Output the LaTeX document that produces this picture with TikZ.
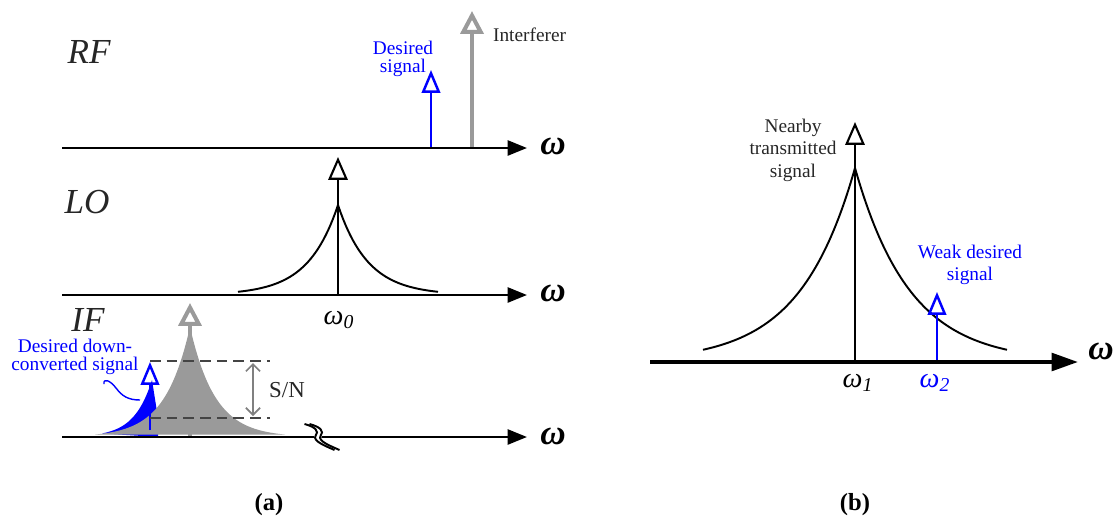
\documentclass[tikz,border=0pt]{standalone}
\usepackage{fontspec}
\setmainfont{Liberation Serif}
\usetikzlibrary{arrows.meta}
\definecolor{sigBlue}{HTML}{0000FF}
\definecolor{sigGray}{HTML}{9A9A9A}
\definecolor{textDark}{HTML}{262626}
\definecolor{dashGray}{HTML}{444444}

\tikzset{
  axisline/.style={line width=1.5pt, -{Triangle[length=11pt,width=8.5pt]}},
  spikeblue/.style={draw=sigBlue, line width=1.4pt, -{Triangle[open,length=13pt,width=10.5pt]}},
  spikegray/.style={draw=sigGray, line width=2.3pt, -{Triangle[open,length=13pt,width=13pt]}},
  spikeblack/.style={draw=black, line width=1.2pt, -{Triangle[open,length=13pt,width=11pt]}},
  bandlabel/.style={font=\fontsize{20}{24}\selectfont\itshape, text=textDark},
  omegalabel/.style={font=\fontsize{20}{24}\selectfont\bfseries\itshape},
  freqlabel/.style={font=\fontsize{16}{18}\selectfont\itshape},
  note/.style={font=\fontsize{11}{10.5}\selectfont, align=center, inner sep=1pt},
  caption/.style={font=\fontsize{14}{16}\selectfont\bfseries}
}

\begin{document}
\begin{tikzpicture}[x=0.02cm, y=-0.02cm]
  \useasboundingbox (0,0) rectangle (1120,518);

  % ---- (a) RF ----
  \coordinate (rfStart) at (62,148);
  \coordinate (rfEnd) at (527,148);
  \node[bandlabel] (rfLbl) at (89,52) {RF};
  \coordinate (wantBase) at (431,148);
  \coordinate (wantTop) at (431,70);
  \coordinate (intBase) at (472,148);
  \coordinate (intTop) at (472,11);
  \draw[spikeblue] (wantBase) -- (wantTop);
  \draw[spikegray] (intBase) -- (intTop);
  \draw[axisline] (rfStart) -- (rfEnd);
  \node[omegalabel] (rfOmega) at (553,146) {ω};
  \node[note, text=sigBlue] (wantLbl) at (403,59) {Desired\\signal};
  \node[note, text=textDark, anchor=west] (intLbl) at (491,35) {Interferer};

  % ---- (a) LO ----
  \coordinate (loStart) at (62,295);
  \coordinate (loEnd) at (527,295);
  \node[bandlabel] (loLbl) at (87,202) {LO};
  \coordinate (loBase) at (338,295);
  \coordinate (loTop) at (338,157);
  \draw[line width=1.1pt] plot[domain=-100:100, samples=81] ({338+\x},{295-90*exp(-abs(\x)/30)});
  \draw[spikeblack] (loBase) -- (loTop);
  \draw[axisline] (loStart) -- (loEnd);
  \node[omegalabel] (loOmega) at (553,293) {ω};
  \node[freqlabel] (wZero) at (339,320) {ω\textsubscript{0}};

  % ---- (a) IF ----
  \coordinate (ifStart) at (62,437);
  \coordinate (ifEnd) at (527,437);
  \node[bandlabel] (ifLbl) at (88,320) {IF};
  \fill[sigBlue] plot[domain=-50:0, samples=26] ({152+\x},{437-57*exp(-abs(\x)/18)})
    -- (158,418) -- (158,437) -- cycle;
  \fill[sigGray] plot[domain=-95:95, samples=96] ({190+\x},{437-110*exp(-abs(\x)/25)}) -- cycle;
  \coordinate (dwnBase) at (150,430);
  \coordinate (dwnTop) at (150,362);
  \coordinate (blkBase) at (190,437);
  \coordinate (blkTop) at (190,303);
  \draw[spikeblue] (dwnBase) -- (dwnTop);
  \draw[spikegray] (blkBase) -- (blkTop);
  \coordinate (snHiL) at (150,361);
  \coordinate (snHiR) at (270,361);
  \coordinate (snLoL) at (150,418);
  \coordinate (snLoR) at (270,418);
  \draw[dashGray, dashed, dash pattern=on 6pt off 3.5pt, line width=0.9pt] (snHiL) -- (snHiR);
  \draw[dashGray, dashed, dash pattern=on 6pt off 3.5pt, line width=0.9pt] (snLoL) -- (snLoR);
  \coordinate (snTop) at (253,363);
  \coordinate (snBot) at (253,416);
  \draw[draw=gray, line width=1pt, {Straight Barb[length=4pt]}-{Straight Barb[length=4pt]}] (snTop) -- (snBot);
  \node[text=textDark, font=\fontsize{13}{15}\selectfont, anchor=west] (snLbl) at (263,390) {S/N};
  \draw[axisline] (ifStart) -- (ifEnd);
  % break in the axis
  \draw[white, line width=4pt] (307,424) .. controls (318,427) and (322,431) .. (318,436)
    .. controls (315,441) and (328,446) .. (337,450);
  \foreach \dx in {-2.5,2.5}
    \draw[line width=1.1pt, xshift=\dx*0.02cm] (307,424) .. controls (318,427) and (322,431) .. (318,436)
      .. controls (315,441) and (328,446) .. (337,450);
  \node[omegalabel] (ifOmega) at (553,436) {ω};
  \node[note, text=sigBlue] (dwnLbl) at (75,357) {Desired down-\\converted signal};
  \coordinate (curlA) at (104,384);
  \coordinate (curlB) at (140,400);
  \draw[sigBlue, line width=0.8pt] (curlA) .. controls (103,378) and (110,380) .. (116,388)
    .. controls (122,396) and (128,400) .. (curlB);

  % ---- (b) ----
  \coordinate (bStart) at (650,362);
  \coordinate (bEnd) at (1078,362);
  \coordinate (nearBase) at (855,362);
  \coordinate (nearTop) at (855,122);
  \coordinate (weakBase) at (937,362);
  \coordinate (weakTop) at (937,292);
  \draw[line width=1.1pt] plot[domain=-152:152, samples=153] ({855+\x},{362-194*exp(-abs(\x)/55)});
  \draw[spikeblack] (nearBase) -- (nearTop);
  \draw[spikeblue] (weakBase) -- (weakTop);
  \draw[line width=2.2pt, -{Triangle[length=15pt,width=10pt]}] (bStart) -- (bEnd);
  \node[omegalabel] (bOmega) at (1101,351) {ω};
  \node[freqlabel] (wOne) at (858,383) {ω\textsubscript{\itshape 1}};
  \node[freqlabel, text=sigBlue] (wTwo) at (935,383) {ω\textsubscript{2}};
  \node[note, text=textDark, font=\fontsize{11}{12.8}\selectfont] (nearLbl) at (793,150) {Nearby\\transmitted\\signal};
  \node[note, text=sigBlue, font=\fontsize{11}{12.8}\selectfont] (weakLbl) at (970,265) {Weak desired\\signal};

  % ---- captions ----
  \node[caption] (capA) at (269,505) {(a)};
  \node[caption] (capB) at (855,505) {(b)};
\end{tikzpicture}
\end{document}
